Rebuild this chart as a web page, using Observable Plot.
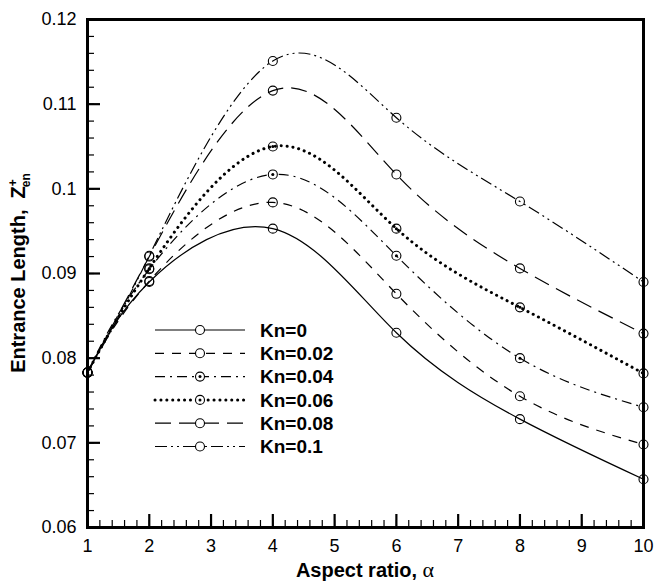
<!DOCTYPE html>
<html><head><meta charset="utf-8">
<script src="https://cdn.jsdelivr.net/npm/d3@7"></script>
<script src="https://cdn.jsdelivr.net/npm/@observablehq/plot@0.6"></script>
<style>
body{margin:0;background:#fff;}
#wrap{position:relative;width:654px;height:581px;}
</style></head><body><div id="wrap"></div>
<script>
// ---- data ----
const alpha = [1, 2, 4, 6, 8, 10];
const knNames = ["Kn=0", "Kn=0.02", "Kn=0.04", "Kn=0.06", "Kn=0.08", "Kn=0.1"];
const zKn0   = [0.0783, 0.0890, 0.0953, 0.0830, 0.0728, 0.0657];
const zKn002 = [0.0783, 0.0891, 0.0984, 0.0876, 0.0755, 0.0698];
const zKn004 = [0.0783, 0.0905, 0.1017, 0.0921, 0.0800, 0.0742];
const zKn006 = [0.0783, 0.0906, 0.1050, 0.0953, 0.0860, 0.0782];
const zKn008 = [0.0783, 0.0920, 0.1116, 0.1017, 0.0906, 0.0829];
const zKn01  = [0.0783, 0.0921, 0.1151, 0.1084, 0.0985, 0.0890];
const xMajor = [1, 2, 3, 4, 5, 6, 7, 8, 9, 10];
const xTickLabels = ["1", "2", "3", "4", "5", "6", "7", "8", "9", "10"];
const yMajor = [0.06, 0.07, 0.08, 0.09, 0.10, 0.11, 0.12];
const yTickLabels = ["0.06", "0.07", "0.08", "0.09", "0.1", "0.11", "0.12"];
const xTitle = "Aspect ratio, ";
const xTitleSymbol = "α";
const yTitle = "Entrance Length,  Z";

// ---- build table ----
const series = [zKn0, zKn002, zKn004, zKn006, zKn008, zKn01];
const rows = [];
series.forEach((vals, s) => vals.forEach((v, i) => rows.push({kn: knNames[s], s, alpha: alpha[i], z: v})));

const styles = [
  {dash: null, width: 1.2, cap: "butt"},
  {dash: "9,8", width: 1.2, cap: "butt"},
  {dash: "10,5,2,5", width: 1.2, cap: "butt"},
  {dash: "0.1,5.8", width: 3, cap: "round"},
  {dash: "16,8", width: 1.2, cap: "butt"},
  {dash: "12,4,2,4,2,4", width: 1.2, cap: "butt"}
];

const xMinor = d3.range(10, 101, 2).map(d => d / 10);
const yMinor = d3.range(60, 121, 2).map(d => d / 1000);
const font = '"Liberation Sans", Arial, Helvetica, sans-serif';
const W = 654, H = 581, mL = 87, mR = 11, mT = 19, mB = 54;
const pw = W - mL - mR, ph = H - mT - mB;

const lineMarks = series.map((_, s) => Plot.line(rows.filter(r => r.s === s), {
  x: "alpha", y: "z", curve: "natural", stroke: "black",
  strokeWidth: styles[s].width, strokeDasharray: styles[s].dash, strokeLinecap: styles[s].cap
}));

const chart = Plot.plot({
  width: W, height: H,
  marginLeft: mL, marginRight: mR, marginTop: mT, marginBottom: mB,
  x: {domain: [1, 10]},
  y: {domain: [0.06, 0.12]},
  style: {fontFamily: font, fontSize: "18px", color: "black", background: "white", overflow: "visible"},
  marks: [
    ...lineMarks,
    Plot.dot(rows, {x: "alpha", y: "z", r: 4.5, stroke: "black", strokeWidth: 1.1, fill: "none"}),
    Plot.dot(rows.filter(r => r.s === 2 || r.s === 3), {x: "alpha", y: "z", r: 1.5, fill: "black"}),
    Plot.ruleX(xMinor, {x: d => d, insetTop: ph - 7, stroke: "black", strokeWidth: 1.2}),
    Plot.ruleX(xMajor, {x: d => d, insetTop: ph - 13, stroke: "black", strokeWidth: 2.2}),
    Plot.axisX({ticks: xMajor, tickSize: 0, tickPadding: 12, tickFormat: d => xTickLabels[xMajor.indexOf(d)], label: null, fontSize: 18}),
    Plot.ruleY(yMinor, {y: d => d, insetRight: pw - 7, stroke: "black", strokeWidth: 1.2}),
    Plot.ruleY(yMajor, {y: d => d, insetRight: pw - 13, stroke: "black", strokeWidth: 2.2}),
    Plot.axisY({ticks: yMajor, tickSize: 0, tickPadding: 11, tickFormat: d => yTickLabels[yMajor.indexOf(d)], label: null, fontSize: 18}),
    Plot.frame({stroke: "black", strokeWidth: 3})
  ]
});
document.getElementById("wrap").appendChild(chart);

// ---- titles ----
const svg = d3.select(chart);
const xt = svg.append("text").attr("x", 365).attr("y", 577).attr("text-anchor", "middle")
  .attr("font-family", font).attr("font-size", 20).attr("font-weight", "bold").attr("fill", "black");
xt.append("tspan").text(xTitle);
xt.append("tspan").attr("font-family", '"Liberation Serif", "Times New Roman", serif').attr("font-weight", "normal").attr("font-size", 22).text(xTitleSymbol);

const yt = svg.append("text").attr("transform", "translate(25,273) rotate(-90)").attr("text-anchor", "middle")
  .attr("font-family", font).attr("font-size", 20).attr("font-weight", "bold").attr("fill", "black");
yt.append("tspan").text(yTitle);
yt.append("tspan").attr("font-size", 12).attr("dy", -8).text("+");
yt.append("tspan").attr("font-size", 12).attr("dx", -8).attr("dy", 13).text("en");

// ---- legend ----
const lg = svg.append("g");
knNames.forEach((name, i) => {
  const y = 330 + i * 23.3;
  const st = styles[i];
  lg.append("line").attr("x1", 155).attr("x2", 245).attr("y1", y).attr("y2", y)
    .attr("stroke", "black").attr("stroke-width", st.width)
    .attr("stroke-dasharray", st.dash).attr("stroke-linecap", st.cap);
  lg.append("circle").attr("cx", 200).attr("cy", y).attr("r", 4.5).attr("fill", "white").attr("stroke", "black").attr("stroke-width", 1.1);
  if (i === 2 || i === 3) lg.append("circle").attr("cx", 200).attr("cy", y).attr("r", 1.5).attr("fill", "black");
  lg.append("text").attr("x", 260).attr("y", y).attr("dy", "0.35em").attr("text-anchor", "start")
    .attr("font-family", font).attr("font-size", 19).attr("font-weight", "bold").attr("fill", "black").text(name);
});
</script></body></html>
